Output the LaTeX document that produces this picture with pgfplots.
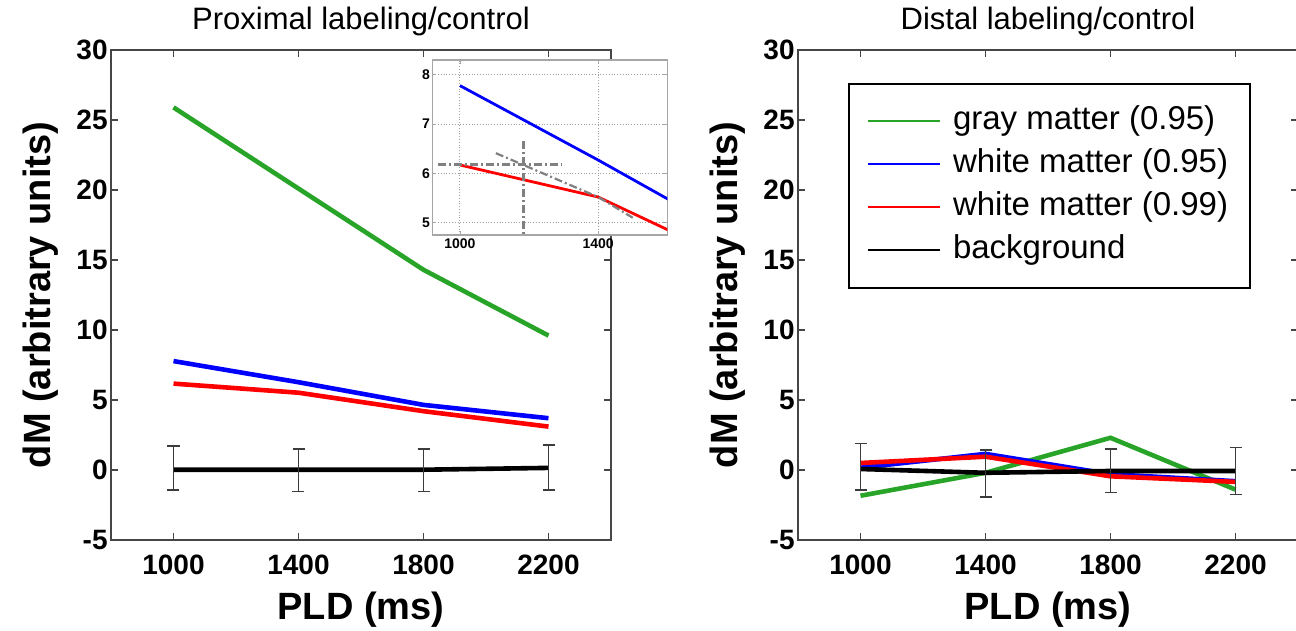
\documentclass[border=0pt]{standalone}
\usepackage{fontspec}
\setmainfont{Liberation Sans}
\usepackage{pgfplots}
\pgfplotsset{compat=1.18}

\definecolor{graymatter}{RGB}{40,165,40}
\definecolor{whiteA}{RGB}{0,0,255}
\definecolor{whiteB}{RGB}{255,0,0}
\definecolor{axgray}{RGB}{70,70,70}
\definecolor{errgray}{RGB}{60,60,60}

\pgfplotsset{
  panel/.style={
    scale only axis, width=250pt, height=245pt,
    xmin=800, xmax=2400, ymin=-5, ymax=30,
    xtick={1000,1400,1800,2200}, ytick={-5,0,5,10,15,20,25,30},
    tick align=inside, major tick length=3.5pt,
    axis line style={draw=axgray, line width=0.9pt},
    every tick/.style={axgray, line width=0.9pt},
    tick label style={font=\fontsize{14}{14}\selectfont\bfseries},
    /pgf/number format/assume math mode=true,
    /pgf/number format/1000 sep={},
    yticklabel style={inner xsep=1.5pt},
    xticklabel style={anchor=base, yshift=-17.5pt},
    xlabel={PLD (ms)}, ylabel={dM (arbitrary units)},
    x label style={at={(axis description cs:0.5,-0.163)}, anchor=base,
      font=\fontsize{19}{19}\selectfont\bfseries},
    y label style={at={(axis description cs:-0.122,0.5)}, anchor=base,
      font=\fontsize{19}{19}\selectfont\bfseries},
    title style={at={(axis description cs:0.5,1.017)}, anchor=base,
      font=\fontsize{15.5}{15.5}\selectfont},
  },
  big/.style={line width=2.3pt},
  errs/.style={error bars/.cd, y dir=both, y explicit,
    error bar style={errgray, line width=0.8pt},
    error mark options={rotate=90, errgray, line width=0.8pt, mark size=3pt}},
}

\begin{document}
\begin{tikzpicture}
\path[use as bounding box] (-55.5pt,-45.5pt) rectangle (592.5pt,270pt);

% proximal labeling
\begin{axis}[panel, title={Proximal labeling/control}]
  \addplot[graymatter, big] coordinates {(1000,25.9) (1400,20.1) (1800,14.3) (2200,9.6)};
  \addplot[whiteA, big] coordinates {(1000,7.78) (1400,6.27) (1800,4.65) (2200,3.7)};
  \addplot[whiteB, big] coordinates {(1000,6.17) (1400,5.52) (1800,4.2) (2200,3.1)};
  \addplot[black, big, errs] coordinates {
    (1000,0.02) += (0,1.7) -= (0,1.45)
    (1400,0.02) += (0,1.5) -= (0,1.55)
    (1800,0.02) += (0,1.5) -= (0,1.55)
    (2200,0.15) += (0,1.65) -= (0,1.6)
  };
\end{axis}

% zoomed inset
\begin{axis}[
  at={(160.65pt,152.5pt)}, anchor=south west,
  scale only axis, width=117.5pt, height=87.5pt,
  xmin=920, xmax=1600, ymin=4.75, ymax=8.3,
  xtick={1000,1400}, ytick={5,6,7,8},
  grid=major, major grid style={densely dotted, gray!75, line width=0.5pt},
  axis line style={gray!70, line width=0.7pt},
  tick align=inside, major tick length=2pt,
  every tick/.style={gray!70},
  axis background/.style={fill=white},
  tick label style={font=\fontsize{7}{7}\selectfont\bfseries},
  /pgf/number format/assume math mode=true,
  /pgf/number format/1000 sep={},
  yticklabel style={inner xsep=1pt},
  xticklabel style={inner ysep=1.5pt},
]
  \addplot[whiteA, line width=1.4pt] coordinates {(1000,7.78) (1400,6.27) (1800,4.7)};
  \addplot[whiteB, line width=1.4pt] coordinates {(1000,6.17) (1400,5.52) (1800,4.2)};
  \addplot[gray, line width=1.1pt, dash pattern=on 4pt off 1.5pt on 1pt off 1.5pt]
    coordinates {(937,6.18) (1295,6.18)};
  \addplot[gray, line width=1.1pt, dash pattern=on 4pt off 1.5pt on 1pt off 1.5pt]
    coordinates {(1184,6.65) (1184,4.75)};
  \addplot[gray, line width=1.1pt, dash pattern=on 4pt off 1.5pt on 1pt off 1.5pt]
    coordinates {(1104,6.41) (1400,5.52) (1500,5.1)};
\end{axis}

% distal labeling
\begin{axis}[panel, at={(343.5pt,0pt)}, anchor=south west,
  title={Distal labeling/control},
  legend image code/.code={\draw[line width=1pt, #1] (0pt,0pt) -- (36pt,0pt);},
  legend cell align=left,
  legend style={at={(axis description cs:0.1,0.933)}, anchor=north west,
    line width=1pt, font=\fontsize{16.5}{16.5}\selectfont,
    inner xsep=9pt, inner ysep=8pt,
    nodes={text height=12pt, text depth=4pt, inner ysep=2.75pt, inner xsep=2pt},
    /tikz/every odd column/.append style={column sep=4pt}},
]
  \addplot[graymatter, big] coordinates {(1000,-1.84) (1400,-0.2) (1800,2.3) (2200,-1.4)};
  \addplot[whiteA, big] coordinates {(1000,0.16) (1400,1.15) (1800,-0.3) (2200,-0.8)};
  \addplot[whiteB, big] coordinates {(1000,0.5) (1400,0.95) (1800,-0.45) (2200,-0.85)};
  \addplot[black, big, errs] coordinates {
    (1000,0.07) += (0,1.83) -= (0,1.5)
    (1400,-0.2) += (0,1.63) -= (0,1.75)
    (1800,-0.07) += (0,1.57) -= (0,1.55)
    (2200,-0.07) += (0,1.69) -= (0,1.67)
  };
  \legend{gray matter (0.95), white matter (0.95), white matter (0.99), background}
\end{axis}
\end{tikzpicture}
\end{document}
